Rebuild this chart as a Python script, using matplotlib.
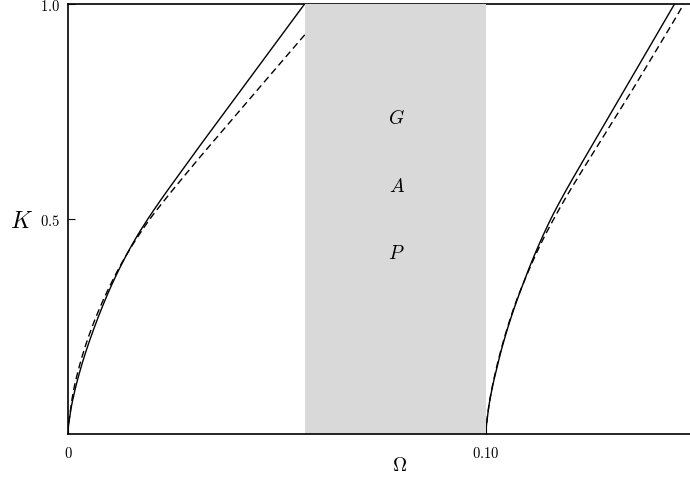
import numpy as np
import matplotlib
matplotlib.use("Agg")
import matplotlib.pyplot as plt
from matplotlib.ticker import FixedLocator

plt.rcParams['mathtext.fontset'] = 'cm'
plt.rcParams['font.family'] = ['DejaVu Serif']

# Data: Omega values along the curves at the listed K values
K_vals = [0.0, 0.05, 0.10, 0.15, 0.20, 0.25, 0.30, 0.35, 0.40, 0.45, 0.50,
          0.55, 0.60, 0.65, 0.70, 0.75, 0.80, 0.85, 0.90, 0.95, 1.00]
left_solid = [0.0, 0.00057, 0.00161, 0.00296, 0.00456, 0.00638, 0.00838, 0.0106, 0.0131, 0.0159, 0.0191,
              0.0226, 0.0263, 0.0300, 0.0338, 0.0376, 0.0414, 0.0452, 0.0490, 0.0528, 0.0566]
left_dashed = [0.0, 0.0005, 0.0013, 0.0025, 0.0040, 0.0058, 0.0079, 0.0103, 0.0130, 0.0161, 0.0196,
               0.0236, 0.0278, 0.0321, 0.0365, 0.0409, 0.0453, 0.0497, 0.0541, 0.0586, 0.0630]
right_solid = [0.1000, 0.10047, 0.10133, 0.1025, 0.1038, 0.1053, 0.1070, 0.1089, 0.1109, 0.1131, 0.1155,
               0.1182, 0.1211, 0.1241, 0.1271, 0.1301, 0.1331, 0.1361, 0.1391, 0.1421, 0.1451]
right_dashed = [0.1000, 0.10045, 0.1013, 0.1024, 0.1037, 0.1052, 0.1069, 0.1089, 0.1111, 0.1135, 0.1162,
                0.1191, 0.1222, 0.1254, 0.1286, 0.1318, 0.1350, 0.1381, 0.1412, 0.1443, 0.1473]
gap = (0.0567, 0.1000)
gap_letters = ["G", "A", "P"]
gap_letter_K = [0.737, 0.577, 0.421]
x_ticks = [0.0, 0.10]
x_ticklabels = ["0", "0.10"]
y_ticks = [0.5, 1.0]
y_ticklabels = ["0.5", "1.0"]


def pchip(x, y, xf):
    x = np.asarray(x, float)
    y = np.asarray(y, float)
    h = np.diff(x)
    d = np.diff(y) / h
    n = len(x)
    m = np.zeros(n)
    for i in range(1, n - 1):
        if d[i - 1] * d[i] <= 0:
            m[i] = 0
        else:
            w1 = 2 * h[i] + h[i - 1]
            w2 = h[i] + 2 * h[i - 1]
            m[i] = (w1 + w2) / (w1 / d[i - 1] + w2 / d[i])
    m[0] = 0.0
    m[-1] = d[-1]
    idx = np.clip(np.searchsorted(x, xf) - 1, 0, n - 2)
    t = (xf - x[idx]) / h[idx]
    h00 = 2 * t**3 - 3 * t**2 + 1
    h10 = t**3 - 2 * t**2 + t
    h01 = -2 * t**3 + 3 * t**2
    h11 = t**3 - t**2
    return h00 * y[idx] + h10 * h[idx] * m[idx] + h01 * y[idx + 1] + h11 * h[idx] * m[idx + 1]


fig = plt.figure(figsize=(6.9, 4.81), dpi=100)
ax = fig.add_axes([68/690, 1-435/481, 1-68/690, (435-5)/481])

kf = np.linspace(0, 1, 800)
for xs, ls in [(left_solid, '-'), (left_dashed, '--'), (right_solid, '-'), (right_dashed, '--')]:
    of = pchip(K_vals, xs, kf)
    if ls == '--':
        ax.plot(of, kf, color='black', lw=1.0, ls='--', dashes=(5, 3), zorder=2)
    else:
        ax.plot(of, kf, color='black', lw=1.0, zorder=2)

ax.axvspan(gap[0], gap[1], color='#d9d9d9', lw=0, zorder=3)
xc = (gap[0] + gap[1]) / 2 + 0.0003
for letter, kv in zip(gap_letters, gap_letter_K):
    ax.text(xc, kv, '$' + letter + '$', ha='center', va='center', fontsize=14, zorder=4)

ax.set_xlim(0, 0.1488)
ax.set_ylim(0, 1.0)
ax.xaxis.set_major_locator(FixedLocator(x_ticks))
ax.yaxis.set_major_locator(FixedLocator(y_ticks))
ax.set_xticklabels(['$\\mathrm{' + t + '}$' for t in x_ticklabels], fontsize=10.5)
ax.set_yticklabels(['$\\mathrm{' + t + '}$' for t in y_ticklabels], fontsize=10.5)
ax.tick_params(direction='in', length=5, width=0.8)
ax.tick_params(axis='x', pad=8)
ax.tick_params(axis='y', pad=6)
ax.spines['right'].set_visible(False)
for sp in ['left', 'top', 'bottom']:
    ax.spines[sp].set_linewidth(1.2)
ax.spines['bottom'].set_zorder(5)

fig.text(22/690, 1-222/481, '$K$', fontsize=17, ha='center', va='center')
fig.text(400/690, 1-466/481, '$\\Omega$', fontsize=14, ha='center', va='center')

fig.savefig('out.png', dpi=100)
